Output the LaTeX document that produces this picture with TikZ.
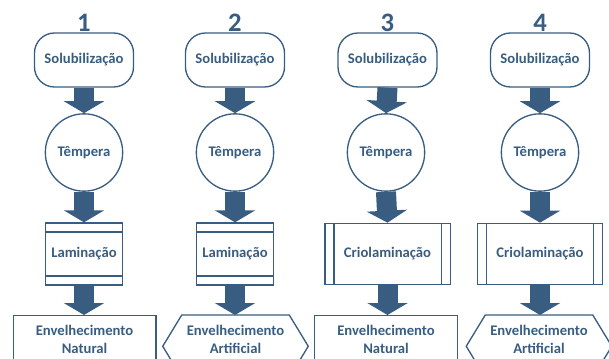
\documentclass[tikz,border=0pt]{standalone}
\usepackage{fontspec}
\setmainfont{Carlito}
\usetikzlibrary{arrows.meta}
\definecolor{bl}{RGB}{56,93,128}
\begin{document}
\begin{tikzpicture}[x=0.75pt,y=-0.75pt,
  every node/.style={font=\bfseries\fontsize{11}{13.5}\selectfont, text=bl, align=center, inner sep=0pt},
  ln/.style={draw=bl, line width=1pt},
  num/.style={font=\bfseries\fontsize{20}{24}\selectfont},
  term/.style={ln, rounded corners=15pt, minimum width=74.25pt, minimum height=40.5pt},
  circ/.style={ln, circle, minimum size=58pt},
  lam/.style={ln, minimum width=57.75pt, minimum height=46.5pt,
    path picture={\draw[bl,line width=1pt]
      ([yshift=-6.75pt]path picture bounding box.north west) -- ([yshift=-6.75pt]path picture bounding box.north east)
      ([yshift=6.75pt]path picture bounding box.south west) -- ([yshift=6.75pt]path picture bounding box.south east);}},
  crio/.style={ln, minimum width=94pt, minimum height=46pt,
    path picture={\draw[bl,line width=1pt]
      ([xshift=6.75pt]path picture bounding box.north west) -- ([xshift=6.75pt]path picture bounding box.south west)
      ([xshift=-6.75pt]path picture bounding box.north east) -- ([xshift=-6.75pt]path picture bounding box.south east);}},
  natbox/.style={ln, minimum width=107pt, minimum height=46.5pt, text depth=10.5pt, anchor=north},
  hexbox/.style={minimum width=108.75pt, minimum height=46.5pt, text depth=10.5pt, anchor=north},
  arr/.style={draw=bl, line width=15pt, -{Triangle[width=30pt,length=9pt]}}
]
\useasboundingbox (0,0) rectangle (609,359);
\clip (0,0) rectangle (609,359);

% column 1
\node[num] (n1) at (84,23) {1};
\node[term] (s1) at (84,60) {Solubilização};
\node[circ] (t1) at (84,152.5) {Têmpera};
\node[lam] (l1) at (84,254) {Laminação};
\node[natbox] (e1) at (84.5,315) {Envelhecimento\\Natural};

% column 2
\node[num] (n2) at (235,23) {2};
\node[term] (s2) at (235,60) {Solubilização};
\node[circ] (t2) at (235,152.5) {Têmpera};
\node[lam] (l2) at (235,254) {Laminação};
\node[hexbox] (e2) at (235.5,315) {Envelhecimento\\Artificial};
\draw[ln] ([xshift=14.25pt]e2.north west) -- ([xshift=-14.25pt]e2.north east) -- (e2.east)
  -- ([xshift=-14.25pt]e2.south east) -- ([xshift=14.25pt]e2.south west) -- (e2.west) -- cycle;

% column 3
\node[num] (n3) at (387.5,23) {3};
\node[term] (s3) at (387.5,60) {Solubilização};
\node[circ] (t3) at (386,152.5) {Têmpera};
\node[crio] (l3) at (387.5,254) {Criolaminação};
\node[natbox] (e3) at (386,315) {Envelhecimento\\Natural};

% column 4
\node[num] (n4) at (540,23) {4};
\node[term] (s4) at (540,60) {Solubilização};
\node[circ] (t4) at (540,152.5) {Têmpera};
\node[crio] (l4) at (540,254) {Criolaminação};
\node[hexbox] (e4) at (539,315) {Envelhecimento\\Artificial};
\draw[ln] ([xshift=14.25pt]e4.north west) -- ([xshift=-14.25pt]e4.north east) -- (e4.east)
  -- ([xshift=-14.25pt]e4.south east) -- ([xshift=14.25pt]e4.south west) -- (e4.west) -- cycle;

% arrows
\foreach \i in {1,2,3,4}{
  \draw[arr] (s\i.south) -- (t\i.north);
  \draw[arr] (t\i.south) -- (l\i.north);
  \draw[arr] (l\i.south) -- (l\i.south |- e\i.north);
}
\end{tikzpicture}
\end{document}
